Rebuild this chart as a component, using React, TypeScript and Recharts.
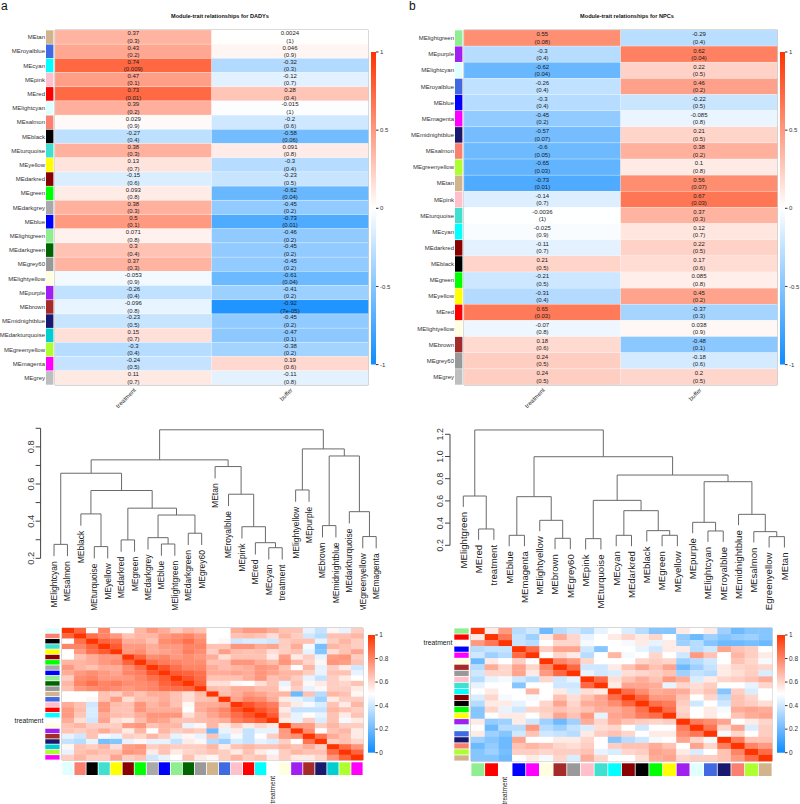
import React from 'react';
import {
  BarChart, Bar, XAxis, YAxis, ReferenceArea, ScatterChart, Scatter, ReferenceLine,
} from 'recharts';

const SANS = "'Liberation Sans', Arial, sans-serif";
const NARROW = "'Liberation Sans Narrow', 'Liberation Sans', Arial, sans-serif";

const moduleColors: Record<string, string> = {
  MEtan: '#D2B48C', MEroyalblue: '#4169E1', MEcyan: '#00FFFF', MEpink: '#FFC0CB', MEred: '#FF0000',
  MElightcyan: '#E0FFFF', MEsalmon: '#FA8072', MEblack: '#000000', MEturquoise: '#40E0D0', MEyellow: '#FFFF00',
  MEdarkred: '#8B0000', MEgreen: '#00FF00', MEdarkgrey: '#A9A9A9', MEblue: '#0000FF', MElightgreen: '#90EE90',
  MEdarkgreen: '#006400', MEgrey60: '#999999', MElightyellow: '#FFFFE0', MEpurple: '#A020F0', MEbrown: '#A52A2A',
  MEmidnightblue: '#191970', MEdarkturquoise: '#00CED1', MEgreenyellow: '#ADFF2F', MEmagenta: '#FF00FF',
  MEgrey: '#BEBEBE', treatment: '#FFFFFF',
};

const traits = ['treatment', 'buffer'];

// ---- panel a: module-trait relationships for DADYs ----
const aModules = ['MEtan', 'MEroyalblue', 'MEcyan', 'MEpink', 'MEred', 'MElightcyan', 'MEsalmon', 'MEblack',
  'MEturquoise', 'MEyellow', 'MEdarkred', 'MEgreen', 'MEdarkgrey', 'MEblue', 'MElightgreen', 'MEdarkgreen',
  'MEgrey60', 'MElightyellow', 'MEpurple', 'MEbrown', 'MEmidnightblue', 'MEdarkturquoise', 'MEgreenyellow',
  'MEmagenta', 'MEgrey'];
const aTreatR = [0.37, 0.43, 0.74, 0.47, 0.73, 0.39, 0.029, -0.27, 0.38, 0.13, -0.15, 0.093, 0.38, 0.5, 0.071,
  0.3, 0.37, -0.053, -0.26, -0.096, -0.23, 0.15, -0.3, -0.24, 0.11];
const aTreatP = ['0.3', '0.2', '0.009', '0.1', '0.01', '0.2', '0.9', '0.4', '0.3', '0.7', '0.6', '0.8', '0.3', '0.1',
  '0.8', '0.4', '0.3', '0.9', '0.4', '0.8', '0.5', '0.7', '0.4', '0.5', '0.7'];
const aBufR = [0.0024, 0.046, -0.32, -0.12, 0.28, -0.015, -0.2, -0.58, 0.091, -0.3, -0.23, -0.62, -0.45, -0.73,
  -0.46, -0.45, -0.45, -0.61, -0.41, -0.92, -0.45, -0.47, -0.38, 0.19, -0.11];
const aBufP = ['1', '0.9', '0.3', '0.7', '0.4', '1', '0.6', '0.06', '0.8', '0.4', '0.5', '0.04', '0.2', '0.01', '0.2',
  '0.2', '0.2', '0.04', '0.2', '7e-05', '0.2', '0.1', '0.2', '0.6', '0.8'];

// ---- panel b: module-trait relationships for NPCs ----
const bModules = ['MElightgreen', 'MEpurple', 'MElightcyan', 'MEroyalblue', 'MEblue', 'MEmagenta', 'MEmidnightblue',
  'MEsalmon', 'MEgreenyellow', 'MEtan', 'MEpink', 'MEturquoise', 'MEcyan', 'MEdarkred', 'MEblack', 'MEgreen',
  'MEyellow', 'MEred', 'MElightyellow', 'MEbrown', 'MEgrey60', 'MEgrey'];
const bTreatR = [0.55, -0.3, -0.62, -0.26, -0.3, -0.45, -0.57, -0.6, -0.65, -0.73, -0.14, -0.0036, -0.025, -0.11,
  0.21, -0.21, -0.31, 0.65, -0.07, 0.18, 0.24, 0.24];
const bTreatP = ['0.08', '0.4', '0.04', '0.4', '0.4', '0.2', '0.07', '0.05', '0.03', '0.01', '0.7', '1', '0.9', '0.7',
  '0.5', '0.5', '0.4', '0.03', '0.8', '0.6', '0.5', '0.5'];
const bBufR = [-0.29, 0.62, 0.22, 0.46, -0.22, -0.085, 0.21, 0.38, 0.1, 0.56, 0.67, 0.37, 0.12, 0.22, 0.17, 0.085,
  0.45, -0.37, 0.038, -0.48, -0.18, 0.2];
const bBufP = ['0.4', '0.04', '0.5', '0.2', '0.5', '0.8', '0.5', '0.2', '0.8', '0.07', '0.03', '0.3', '0.7', '0.5',
  '0.6', '0.8', '0.2', '0.3', '0.9', '0.1', '0.6', '0.5'];

// ---- panel c: eigengene dendrogram + adjacency (DADYs) ----
type Ref = string | number;
const cLeaves = ['MElightcyan', 'MEsalmon', 'MEblack', 'MEturquoise', 'MEyellow', 'MEdarkred', 'MEgreen',
  'MEdarkgrey', 'MEblue', 'MElightgreen', 'MEdarkgreen', 'MEgrey60', 'MEtan', 'MEroyalblue', 'MEpink', 'MEred',
  'MEcyan', 'treatment', 'MElightyellow', 'MEpurple', 'MEbrown', 'MEmidnightblue', 'MEdarkturquoise',
  'MEgreenyellow', 'MEmagenta'];
const cMerges: [Ref, Ref, number][] = [
  ['MElightcyan', 'MEsalmon', 0.275], ['MEturquoise', 'MEyellow', 0.263], ['MEblack', 1, 0.439],
  ['MEdarkred', 'MEgreen', 0.299], ['MEblue', 'MElightgreen', 0.277], ['MEdarkgrey', 4, 0.311],
  ['MEdarkgreen', 'MEgrey60', 0.335], [5, 6, 0.433], [3, 7, 0.47], [2, 8, 0.565], [0, 9, 0.658],
  ['MEcyan', 'treatment', 0.257], ['MEred', 11, 0.284], ['MEpink', 12, 0.37], ['MEroyalblue', 13, 0.545],
  ['MEtan', 14, 0.694], [10, 15, 0.73], ['MElightyellow', 'MEpurple', 0.568], ['MEbrown', 'MEmidnightblue', 0.376],
  ['MEgreenyellow', 'MEmagenta', 0.317], ['MEdarkturquoise', 19, 0.451], [18, 20, 0.751], [17, 21, 0.789],
  [16, 22, 0.892],
];
const cTicks = [0.2, 0.3, 0.4, 0.5, 0.6, 0.7, 0.8, 0.9];
const cTickLabels = [0.2, 0.4, 0.6, 0.8];
const cLower: number[][] = [
  [],
  [0.88],
  [0.5, 0.85],
  [0.8, 0.8, 0.88],
  [0.5, 0.75, 0.85, 0.9],
  [0.5, 0.65, 0.7, 0.75, 0.75],
  [0.68, 0.68, 0.7, 0.75, 0.78, 0.88],
  [0.75, 0.68, 0.65, 0.7, 0.7, 0.78, 0.86],
  [0.7, 0.75, 0.78, 0.75, 0.72, 0.8, 0.82, 0.92],
  [0.62, 0.78, 0.8, 0.75, 0.75, 0.75, 0.8, 0.85, 0.9],
  [0.68, 0.8, 0.85, 0.8, 0.82, 0.78, 0.78, 0.8, 0.88, 0.92],
  [0.65, 0.75, 0.78, 0.8, 0.78, 0.75, 0.78, 0.8, 0.85, 0.86, 0.88],
  [0.5, 0.5, 0.5, 0.65, 0.62, 0.7, 0.65, 0.7, 0.7, 0.65, 0.58, 0.66],
  [0.5, 0.5, 0.52, 0.65, 0.74, 0.58, 0.66, 0.66, 0.7, 0.65, 0.58, 0.65, 0.66],
  [0.7, 0.65, 0.4, 0.76, 0.66, 0.65, 0.76, 0.68, 0.72, 0.65, 0.52, 0.7, 0.7, 0.72],
  [0.75, 0.66, 0.42, 0.76, 0.65, 0.65, 0.76, 0.7, 0.7, 0.7, 0.5, 0.7, 0.75, 0.8, 0.92],
  [0.75, 0.64, 0.42, 0.7, 0.66, 0.65, 0.7, 0.76, 0.76, 0.76, 0.58, 0.66, 0.72, 0.78, 0.86, 0.92],
  [0.7, 0.58, 0.4, 0.72, 0.58, 0.55, 0.66, 0.74, 0.72, 0.65, 0.65, 0.66, 0.68, 0.7, 0.82, 0.86, 0.9],
  [0.65, 0.68, 0.62, 0.62, 0.62, 0.74, 0.76, 0.65, 0.68, 0.68, 0.45, 0.52, 0.68, 0.55, 0.62, 0.55, 0.6, 0.55],
  [0.65, 0.62, 0.65, 0.7, 0.65, 0.55, 0.68, 0.5, 0.68, 0.62, 0.65, 0.62, 0.2, 0.45, 0.55, 0.38, 0.45, 0.45, 0.75],
  [0.45, 0.4, 0.65, 0.48, 0.45, 0.62, 0.6, 0.68, 0.62, 0.45, 0.52, 0.45, 0.65, 0.4, 0.48, 0.38, 0.5, 0.62, 0.74, 0.78],
  [0.38, 0.35, 0.45, 0.22, 0.25, 0.45, 0.52, 0.45, 0.45, 0.38, 0.55, 0.52, 0.35, 0.3, 0.42, 0.38, 0.45, 0.42, 0.62, 0.5, 0.84],
  [0.52, 0.65, 0.62, 0.68, 0.58, 0.74, 0.76, 0.62, 0.65, 0.62, 0.62, 0.62, 0.68, 0.55, 0.65, 0.68, 0.65, 0.65, 0.68, 0.65, 0.7, 0.62],
  [0.45, 0.65, 0.68, 0.65, 0.65, 0.76, 0.74, 0.55, 0.65, 0.55, 0.6, 0.62, 0.65, 0.62, 0.55, 0.65, 0.55, 0.48, 0.62, 0.68, 0.65, 0.65, 0.86],
  [0.62, 0.68, 0.62, 0.62, 0.72, 0.62, 0.65, 0.4, 0.45, 0.5, 0.65, 0.55, 0.52, 0.62, 0.68, 0.62, 0.65, 0.55, 0.62, 0.55, 0.55, 0.6, 0.76, 0.88],
];

// ---- panel d: eigengene dendrogram + adjacency (NPCs) ----
const dLeaves = ['MElightgreen', 'MEred', 'treatment', 'MEblue', 'MEmagenta', 'MElightyellow', 'MEbrown', 'MEgrey60',
  'MEpink', 'MEturquoise', 'MEcyan', 'MEdarkred', 'MEblack', 'MEgreen', 'MEyellow', 'MEpurple', 'MElightcyan',
  'MEroyalblue', 'MEmidnightblue', 'MEsalmon', 'MEgreenyellow', 'MEtan'];
const dMerges: [Ref, Ref, number][] = [
  ['MEred', 'treatment', 0.347], ['MElightgreen', 0, 0.644], ['MEblue', 'MEmagenta', 0.29],
  ['MEbrown', 'MEgrey60', 0.263], ['MElightyellow', 3, 0.425], [2, 4, 0.638], ['MEpink', 'MEturquoise', 0.26],
  ['MEcyan', 'MEdarkred', 0.29], ['MEgreen', 'MEyellow', 0.29], ['MEblack', 8, 0.332], [7, 9, 0.512],
  [6, 10, 0.605], ['MElightcyan', 'MEroyalblue', 0.329], ['MEpurple', 12, 0.407], ['MEgreenyellow', 'MEtan', 0.278],
  ['MEsalmon', 14, 0.323], ['MEmidnightblue', 15, 0.479], [13, 16, 0.773], [11, 17, 0.833], [5, 18, 0.998],
  [1, 19, 1.239],
];
const dTicks = [0.2, 0.4, 0.6, 0.8, 1.0, 1.2];
const dLower: number[][] = [
  [],
  [0.55],
  [0.75, 0.83],
  [0.35, 0.38, 0.38],
  [0.4, 0.3, 0.35, 0.86],
  [0.2, 0.55, 0.5, 0.62, 0.5],
  [0.35, 0.7, 0.6, 0.72, 0.6, 0.8],
  [0.4, 0.6, 0.6, 0.72, 0.55, 0.75, 0.87],
  [0.35, 0.45, 0.48, 0.4, 0.35, 0.6, 0.4, 0.45],
  [0.45, 0.5, 0.5, 0.25, 0.5, 0.5, 0.4, 0.4, 0.87],
  [0.5, 0.55, 0.5, 0.5, 0.68, 0.5, 0.55, 0.42, 0.58, 0.55],
  [0.42, 0.6, 0.48, 0.5, 0.48, 0.5, 0.65, 0.58, 0.65, 0.72, 0.855],
  [0.35, 0.55, 0.55, 0.45, 0.5, 0.6, 0.72, 0.6, 0.7, 0.72, 0.78, 0.88],
  [0.25, 0.6, 0.45, 0.4, 0.6, 0.62, 0.65, 0.62, 0.65, 0.7, 0.7, 0.75, 0.85],
  [0.25, 0.5, 0.55, 0.55, 0.5, 0.6, 0.72, 0.65, 0.75, 0.45, 0.72, 0.75, 0.82, 0.855],
  [0.55, 0.28, 0.3, 0.55, 0.4, 0.3, 0.2, 0.3, 0.7, 0.6, 0.7, 0.65, 0.62, 0.6, 0.62],
  [0.5, 0.2, 0.35, 0.35, 0.75, 0.35, 0.3, 0.38, 0.42, 0.58, 0.6, 0.5, 0.4, 0.5, 0.5, 0.82],
  [0.55, 0.3, 0.25, 0.4, 0.65, 0.4, 0.38, 0.35, 0.55, 0.62, 0.65, 0.6, 0.5, 0.55, 0.55, 0.78, 0.835],
  [0.3, 0.25, 0.2, 0.72, 0.5, 0.5, 0.55, 0.55, 0.6, 0.5, 0.25, 0.35, 0.4, 0.48, 0.5, 0.72, 0.6, 0.48],
  [0.2, 0.28, 0.2, 0.65, 0.68, 0.65, 0.6, 0.58, 0.62, 0.5, 0.62, 0.65, 0.65, 0.7, 0.65, 0.5, 0.72, 0.6, 0.82],
  [0.25, 0.3, 0.22, 0.62, 0.62, 0.6, 0.62, 0.62, 0.65, 0.45, 0.42, 0.6, 0.62, 0.72, 0.7, 0.55, 0.42, 0.5, 0.65, 0.8],
  [0.25, 0.25, 0.2, 0.5, 0.55, 0.48, 0.6, 0.42, 0.7, 0.6, 0.5, 0.5, 0.58, 0.7, 0.72, 0.6, 0.62, 0.62, 0.65, 0.75, 0.86],
];

// blueWhiteRed palette (WGCNA)
const BLUE_END = [13, 140, 255];
const RED_END = [255, 51, 0];
function bwr(t: number) {
  const end = t < 0.5 ? BLUE_END : RED_END;
  const f = t < 0.5 ? t / 0.5 : (1 - t) / 0.5;
  const ch = end.map((v) => Math.round(v + (255 - v) * f));
  return `rgb(${ch.join(',')})`;
}
const corColor = (r: number) => bwr((r + 1) / 2);
const blueHex = `rgb(${BLUE_END.join(',')})`;
const redHex = `rgb(${RED_END.join(',')})`;

type TraitProps = {
  modules: string[]; treatR: number[]; treatP: string[]; bufR: number[]; bufP: string[];
  plotLeft: number; plotRight: number;
};

function TraitHeatmap({ modules, treatR, treatP, bufR, bufP, plotLeft, plotRight }: TraitProps) {
  const W = 400, H = 412, top = 30, bottom = 385;
  const rowH = (bottom - top) / modules.length;
  const data = modules.map((m, i) => ({ name: m, tr: treatR[i], tp: treatP[i], br: bufR[i], bp: bufP[i] }));

  const cellText = (x: number, cy: number, r: number, p: string) => (
    <g fontSize={6} fontFamily={SANS} fill="#1a1a1a" textAnchor="middle">
      <text x={x} y={cy - 1.6}>{String(r)}</text>
      <text x={x} y={cy + 5.7}>({p})</text>
    </g>
  );

  const rowShape = (p: any) => {
    const half = p.width / 2;
    const cy = p.y + p.height / 2;
    const d = p.payload;
    return (
      <g>
        <rect x={p.x} y={p.y} width={half} height={p.height} fill={corColor(d.tr)} stroke="#fff" strokeOpacity={0.35} strokeWidth={0.5} />
        <rect x={p.x + half} y={p.y} width={half} height={p.height} fill={corColor(d.br)} stroke="#fff" strokeOpacity={0.35} strokeWidth={0.5} />
        {cellText(p.x + half / 2, cy, d.tr, d.tp)}
        {cellText(p.x + half * 1.5, cy, d.br, d.bp)}
      </g>
    );
  };

  const rowTick = (p: any) => (
    <g>
      <rect x={p.x - 9} y={p.y - rowH / 2 + 0.3} width={7.4} height={rowH - 0.6} fill={moduleColors[p.payload.value]} />
      <text x={p.x - 10} y={p.y} dy="0.35em" textAnchor="end" fontSize={6} fontFamily={SANS} fill="#333">
        {p.payload.value}
      </text>
    </g>
  );

  const traitTick = (p: any) => {
    const x = p.x + 1.5, y = p.y + 4;
    return (
      <text x={x} y={y} dy="0.35em" transform={`rotate(-45 ${x} ${y})`} textAnchor="end" fontSize={6} fontFamily={SANS} fill="#333">
        {traits[Math.floor(p.payload.value)]}
      </text>
    );
  };

  return (
    <BarChart width={W} height={H} data={data} layout="vertical" barCategoryGap={0} barGap={0}
      margin={{ top, right: W - plotRight, bottom: 0, left: 0 }}>
      <XAxis type="number" domain={[0, 2]} ticks={[0.5, 1.5]} height={H - bottom} axisLine={false} tickLine={false}
        tickSize={0} tickMargin={0} interval={0} tick={traitTick} />
      <YAxis type="category" dataKey="name" width={plotLeft} axisLine={false} tickLine={false} tickSize={0}
        tickMargin={0} interval={0} tick={rowTick} />
      <Bar dataKey={() => 2} shape={rowShape} isAnimationActive={false} />
      <ReferenceArea x1={0} x2={2} fill="none" stroke="#9a9a9a" strokeWidth={0.8} ifOverflow="visible" />
    </BarChart>
  );
}

type BarProps = {
  left: number; top: number; barW: number; barH: number; lo: number; hi: number; ticks: number[];
  id: string; fontSize: number;
};

function ColorBar({ left, top, barW, barH, lo, hi, ticks, id, fontSize }: BarProps) {
  const data = [{ k: 'scale', span: [lo, hi] }];
  return (
    <div style={{ position: 'absolute', left, top: top - 6 }}>
      <BarChart width={barW + 26} height={barH + 12} data={data} barCategoryGap={0}
        margin={{ top: 6, right: 0, bottom: 6, left: 0 }}>
        <defs>
          <linearGradient id={id} x1="0" y1="1" x2="0" y2="0">
            <stop offset="0%" stopColor={blueHex} />
            <stop offset="50%" stopColor="#ffffff" />
            <stop offset="100%" stopColor={redHex} />
          </linearGradient>
        </defs>
        <XAxis dataKey="k" hide />
        <YAxis orientation="right" type="number" width={26} domain={[lo, hi]} ticks={ticks} interval={0}
          axisLine={false} tickSize={2.5} tickMargin={1.5} tickLine={{ stroke: '#333' }}
          tick={{ fontSize, fill: '#333', fontFamily: SANS }} tickFormatter={(v: number) => String(v)} />
        <Bar dataKey="span" fill={`url(#${id})`} isAnimationActive={false} />
      </BarChart>
    </div>
  );
}

type DendroProps = {
  leaves: string[]; merges: [Ref, Ref, number][]; hang: number; W: number; H: number;
  plotL: number; plotR: number; plotT: number; plotB: number; xDomain: [number, number];
  yDomain: [number, number]; yTicks: number[]; yLabels: number[]; leafFont: number; tickFont: number;
  labelGap: number;
};

function Dendrogram(props: DendroProps) {
  const { leaves, merges, hang, W, H, plotL, plotR, plotT, plotB, xDomain, yDomain, yTicks, yLabels,
    leafFont, tickFont, labelGap } = props;
  const xs: number[] = [];
  const segs: { a: { x: number; y: number }; b: { x: number; y: number }; leaf?: string }[] = [];
  const xOf = (c: Ref) => (typeof c === 'string' ? leaves.indexOf(c) : xs[c]);
  const hOf = (c: Ref, h: number) => (typeof c === 'string' ? h - hang : merges[c][2]);
  merges.forEach(([l, r, h], k) => {
    const xl = xOf(l), xr = xOf(r);
    segs.push({ a: { x: xl, y: hOf(l, h) }, b: { x: xl, y: h }, leaf: typeof l === 'string' ? l : undefined });
    segs.push({ a: { x: xl, y: h }, b: { x: xr, y: h } });
    segs.push({ a: { x: xr, y: hOf(r, h) }, b: { x: xr, y: h }, leaf: typeof r === 'string' ? r : undefined });
    xs[k] = (xl + xr) / 2;
  });

  const leafLabel = (name: string) => (p: any) => {
    const vb = p.viewBox;
    const x = vb.x, y = vb.y + vb.height + labelGap;
    return (
      <text x={x} y={y} dy="0.35em" transform={`rotate(-90 ${x} ${y})`} textAnchor="end" fontSize={leafFont}
        fontFamily={NARROW} fill="#222">{name}</text>
    );
  };

  const yTick = (p: any) => {
    const v = p.payload.value;
    if (!yLabels.some((t) => Math.abs(t - v) < 1e-9)) return <g />;
    const x = p.x, y = p.y;
    return (
      <text x={x} y={y} transform={`rotate(-90 ${x} ${y})`} textAnchor="middle" fontSize={tickFont}
        fontFamily={NARROW} fill="#333">{v.toFixed(1)}</text>
    );
  };

  return (
    <ScatterChart width={W} height={H} margin={{ top: plotT, right: W - plotR, bottom: H - plotB, left: 0 }}>
      <XAxis type="number" dataKey="x" domain={xDomain} allowDataOverflow hide />
      <YAxis type="number" dataKey="y" domain={yDomain} ticks={yTicks} interval={0} allowDataOverflow width={plotL}
        tickSize={5} tickMargin={2} axisLine={{ stroke: '#444' }} tickLine={{ stroke: '#444' }} tick={yTick} />
      {segs.map((s, i) => (
        <ReferenceLine key={i} segment={[s.a, s.b]} stroke="#6a6a6a" strokeWidth={1} ifOverflow="visible"
          label={s.leaf ? leafLabel(s.leaf) : undefined} />
      ))}
    </ScatterChart>
  );
}

type AdjProps = {
  order: string[]; lower: number[][]; W: number; H: number; plotL: number; plotR: number;
  plotT: number; plotB: number; stripGap: number; stripW: number;
};

function AdjHeatmap({ order, lower, W, H, plotL, plotR, plotT, plotB, stripGap, stripW }: AdjProps) {
  const n = order.length;
  const cw = (plotR - plotL) / n, rh = (plotB - plotT) / n;
  const cells: { x: number; y: number; v: number }[] = [];
  order.forEach((_, i) => {
    order.forEach((__, j) => {
      const v = i === j ? 1 : i > j ? lower[i][j] : lower[j][i];
      cells.push({ x: j + 0.5, y: i + 0.5, v });
    });
  });
  const centers = order.map((_, i) => i + 0.5);

  const cellShape = (p: any) => (
    <rect x={p.cx - cw / 2} y={p.cy - rh / 2} width={cw + 0.3} height={rh + 0.3} fill={bwr(p.payload.v)} />
  );

  const rowTick = (p: any) => {
    const name = order[Math.floor(p.payload.value)];
    const x0 = p.x - stripGap - stripW;
    return (
      <g>
        <rect x={x0} y={p.y - rh / 2 + 0.4} width={stripW} height={rh - 0.8} fill={moduleColors[name]} />
        {name === 'treatment' && (
          <text x={x0 - 2} y={p.y} dy="0.35em" textAnchor="end" fontSize={6.8} fontFamily={SANS} fill="#222">treatment</text>
        )}
      </g>
    );
  };

  const colTick = (p: any) => {
    const name = order[Math.floor(p.payload.value)];
    const ty = p.y + 16;
    return (
      <g>
        <rect x={p.x - cw / 2 + 0.4} y={p.y + 2.3} width={cw - 0.8} height={12.7} fill={moduleColors[name]} />
        {name === 'treatment' && (
          <text x={p.x} y={ty} dy="0.35em" transform={`rotate(-90 ${p.x} ${ty})`} textAnchor="end" fontSize={6.5}
            fontFamily={SANS} fill="#222">treatment</text>
        )}
      </g>
    );
  };

  return (
    <ScatterChart width={W} height={H} margin={{ top: plotT, right: W - plotR, bottom: 0, left: 0 }}>
      <XAxis type="number" dataKey="x" domain={[0, n]} ticks={centers} interval={0} height={H - plotB}
        axisLine={false} tickLine={false} tickSize={0} tickMargin={0} tick={colTick} />
      <YAxis type="number" dataKey="y" domain={[0, n]} reversed ticks={centers} interval={0} width={plotL}
        axisLine={false} tickLine={false} tickSize={0} tickMargin={0} tick={rowTick} />
      <Scatter data={cells} shape={cellShape} isAnimationActive={false} />
      <ReferenceArea x1={0} x2={n} y1={0} y2={n} fill="none" stroke="#9a9a9a" strokeWidth={0.8} ifOverflow="visible" />
    </ScatterChart>
  );
}

const abs = (left: number, top: number): React.CSSProperties => ({ position: 'absolute', left, top });

export default function App() {
  return (
    <div style={{ position: 'absolute', left: 0, top: 0, width: 800, height: 804, overflow: 'hidden', background: '#fff' }}>
      <svg width={800} height={30} style={abs(0, 0)}>
        <text x={1} y={10} fontSize={12} fontFamily={SANS} fill="#111">a</text>
        <text x={409} y={10} fontSize={12} fontFamily={SANS} fill="#111">b</text>
        <text x={220} y={17.5} textAnchor="middle" fontSize={5.6} fontWeight="bold" fontFamily={SANS} fill="#111">
          Module-trait relationships for DADYs
        </text>
        <text x={627} y={17.5} textAnchor="middle" fontSize={5.6} fontWeight="bold" fontFamily={SANS} fill="#111">
          Module-trait relationships for NPCs
        </text>
      </svg>

      <div style={abs(0, 0)}>
        <TraitHeatmap modules={aModules} treatR={aTreatR} treatP={aTreatP} bufR={aBufR} bufP={aBufP}
          plotLeft={55} plotRight={368.3} />
      </div>
      <ColorBar left={371} top={51.7} barW={5} barH={312.6} lo={-1} hi={1} ticks={[-1, -0.5, 0, 0.5, 1]} id="gA" fontSize={6} />

      <div style={abs(400, 0)}>
        <TraitHeatmap modules={bModules} treatR={bTreatR} treatP={bTreatP} bufR={bBufR} bufP={bBufP}
          plotLeft={64} plotRight={377.3} />
      </div>
      <ColorBar left={780} top={51.7} barW={5} barH={312.6} lo={-1} hi={1} ticks={[-1, -0.5, 0, 0.5, 1]} id="gB" fontSize={6} />

      <div style={abs(0, 415)}>
        <Dendrogram leaves={cLeaves} merges={cMerges} hang={0.0635} W={400} H={195} plotL={40.6} plotR={389.6}
          plotT={13.3} plotB={143.3} xDomain={[-1, 25]} yDomain={[0.2, 0.9]} yTicks={cTicks} yLabels={cTickLabels}
          leafFont={8.5} tickFont={9.3} labelGap={5} />
      </div>
      <div style={abs(400, 415)}>
        <Dendrogram leaves={dLeaves} merges={dMerges} hang={0.098} W={400} H={195} plotL={50} plotR={399.7}
          plotT={19.3} plotB={130.3} xDomain={[-0.87, 22]} yDomain={[0.2, 1.2]} yTicks={dTicks} yLabels={dTicks}
          leafFont={9.6} tickFont={8.8} labelGap={5} />
      </div>

      <div style={abs(0, 600)}>
        <AdjHeatmap order={cLeaves} lower={cLower} W={400} H={204} plotL={62} plotR={363} plotT={28} plotB={160}
          stripGap={2.4} stripW={14.3} />
      </div>
      <ColorBar left={367.7} top={635} barW={7.3} barH={117.7} lo={0} hi={1} ticks={[0, 0.2, 0.4, 0.6, 0.8, 1]} id="gC" fontSize={6.5} />

      <div style={abs(400, 600)}>
        <AdjHeatmap order={dLeaves} lower={dLower} W={400} H={204} plotL={71} plotR={372} plotT={28} plotB={161}
          stripGap={2.3} stripW={14.4} />
      </div>
      <ColorBar left={777} top={635} barW={8} barH={117.7} lo={0} hi={1} ticks={[0, 0.2, 0.4, 0.6, 0.8, 1]} id="gD" fontSize={6.5} />
    </div>
  );
}
